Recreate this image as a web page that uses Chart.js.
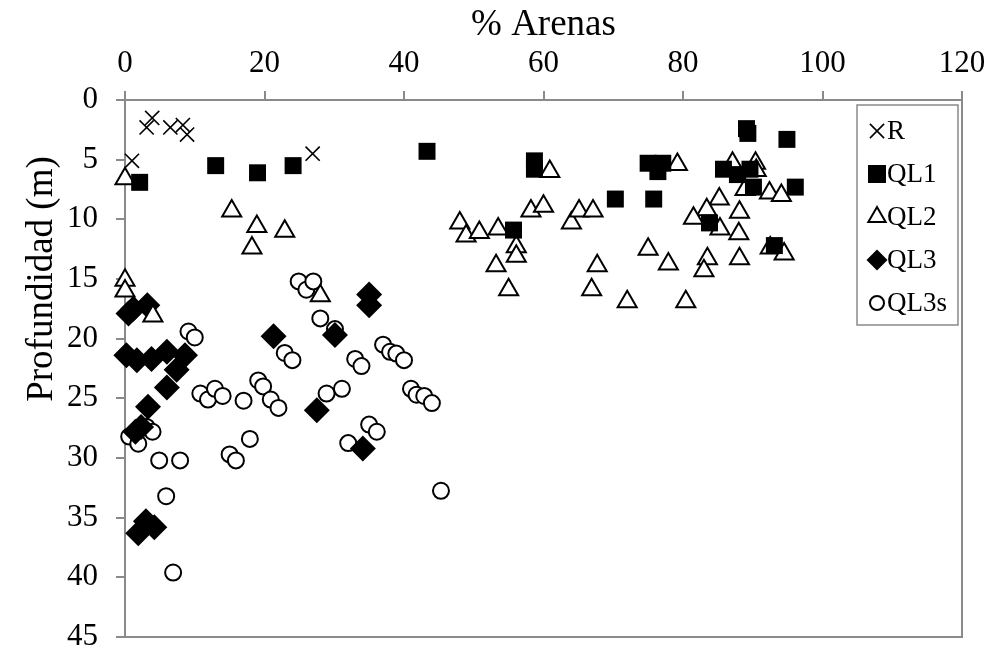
<!DOCTYPE html>
<html>
<head>
<meta charset="utf-8">
<script src="https://cdn.jsdelivr.net/npm/chart.js@4.4.0/dist/chart.umd.min.js"></script>
<style>
html,body{margin:0;padding:0;background:#fff;}
#wrap{width:991px;height:653px;position:relative;}
</style>
</head>
<body>
<div id="wrap"><canvas id="c" width="991" height="653"></canvas></div>
<script>
// Tick settings
const xTicks = [0, 20, 40, 60, 80, 100, 120];
const yTicks = [0, 5, 10, 15, 20, 25, 30, 35, 40, 45];
const xTitle = '% Arenas';
const yTitle = 'Profundidad (m)';
const seriesNames = ['R', 'QL1', 'QL2', 'QL3', 'QL3s'];

// R
const rX = [1.0, 3.1, 3.9, 6.5, 8.3, 8.9, 26.9];
const rY = [5.1, 2.3, 1.5, 2.3, 2.1, 2.9, 4.5];

// QL1
const ql1X = [2.1, 13.0, 19.0, 24.1, 43.3, 58.7, 58.7, 55.7, 70.3, 75.0, 77.1, 76.4, 75.8, 85.8, 87.8, 89.6, 90.1, 89.1, 89.3, 94.9, 96.1, 83.8, 93.1];
const ql1Y = [6.9, 5.5, 6.1, 5.5, 4.3, 5.1, 5.8, 10.9, 8.3, 5.3, 5.3, 6.0, 8.3, 5.8, 6.25, 5.8, 7.3, 2.4, 2.8, 3.3, 7.3, 10.3, 12.2];

// QL2
const ql2X = [0.0, 15.3, 18.9, 22.9, 18.2, 0.0, 0.0, 4.0, 28.0, 48.0, 48.9, 50.8, 53.5, 56.1, 56.1, 53.2, 55.0, 58.2, 60.0, 64.0, 65.1, 67.1, 67.7, 66.9, 72.0, 75.0, 60.9, 79.2, 87.1, 90.4, 90.5, 88.9, 92.4, 94.1, 85.2, 83.4, 81.5, 88.1, 85.3, 88.0, 77.9, 83.5, 83.0, 88.1, 92.5, 94.5, 80.4];
const ql2Y = [6.6, 9.3, 10.6, 11.0, 12.4, 15.1, 16.0, 18.1, 16.4, 10.3, 11.4, 11.1, 10.8, 12.3, 13.1, 13.9, 15.9, 9.3, 8.9, 10.3, 9.3, 9.3, 13.9, 15.9, 16.9, 12.5, 6.0, 5.4, 5.3, 5.3, 5.9, 7.5, 7.8, 8.0, 8.3, 9.2, 9.9, 9.4, 10.8, 11.2, 13.75, 13.3, 14.3, 13.3, 12.4, 12.9, 16.9];

// QL3
const ql3X = [0.5, 1.2, 3.2, 21.3, 0.2, 1.7, 3.8, 6.0, 8.6, 7.4, 6.0, 3.3, 1.5, 2.3, 1.9, 3.0, 4.2, 35.0, 35.0, 30.1, 27.5, 34.1];
const ql3Y = [17.9, 17.5, 17.2, 19.8, 21.4, 21.8, 21.7, 21.1, 21.4, 22.6, 24.1, 25.7, 27.8, 27.4, 36.3, 35.3, 35.8, 16.3, 17.2, 19.7, 26.0, 29.2];

// QL3s
const ql3sX = [9.1, 10.0, 19.1, 19.8, 22.9, 24.0, 10.8, 11.9, 12.9, 14.0, 17.0, 20.9, 22.0, 0.6, 1.9, 3.1, 3.95, 4.9, 7.9, 5.9, 6.9, 17.9, 15.0, 15.9, 24.9, 26.0, 27.0, 28.0, 30.1, 33.0, 33.9, 37.0, 38.0, 38.9, 40.0, 41.0, 41.8, 42.9, 44.0, 28.9, 31.1, 35.0, 36.1, 32.0, 45.3];
const ql3sY = [19.4, 19.9, 23.5, 24.0, 21.2, 21.8, 24.6, 25.1, 24.2, 24.8, 25.2, 25.1, 25.8, 28.2, 28.8, 27.4, 27.8, 30.2, 30.2, 33.2, 39.6, 28.4, 29.7, 30.2, 15.2, 15.9, 15.2, 18.3, 19.2, 21.7, 22.3, 20.5, 21.1, 21.25, 21.8, 24.2, 24.7, 24.8, 25.4, 24.6, 24.2, 27.2, 27.8, 28.75, 32.75];

function pts(xs, ys) { return xs.map((x, i) => ({x: x, y: ys[i]})); }

const AXIS = '#8a8a8a';
const FONT = "'Liberation Serif', 'Times New Roman', serif";

const styles = [
  {pointStyle: 'crossRot', radius: 10, backgroundColor: '#000', borderColor: '#000', borderWidth: 1.6, legendR: 10},
  {pointStyle: 'rect', radius: 12, backgroundColor: '#000', borderColor: '#000', borderWidth: 0, legendR: 12.7},
  {pointStyle: 'triangle', radius: 11, backgroundColor: '#fff', borderColor: '#000', borderWidth: 2, legendR: 10},
  {pointStyle: 'rectRot', radius: 13, backgroundColor: '#000', borderColor: '#000', borderWidth: 0, legendR: 10.5},
  {pointStyle: 'circle', radius: 8, backgroundColor: '#fff', borderColor: '#000', borderWidth: 2, legendR: 7}
];
const dataSets = [pts(rX, rY), pts(ql1X, ql1Y), pts(ql2X, ql2Y), pts(ql3X, ql3Y), pts(ql3sX, ql3sY)];

const datasets = seriesNames.map((name, i) => ({
  label: name,
  data: dataSets[i],
  clip: false,
  pointStyle: styles[i].pointStyle,
  pointRadius: styles[i].radius,
  pointHoverRadius: styles[i].radius,
  pointBackgroundColor: styles[i].backgroundColor,
  pointBorderColor: styles[i].borderColor,
  pointBorderWidth: styles[i].borderWidth,
  showLine: false
}));

const framePlugin = {
  id: 'frame',
  beforeDatasetsDraw(chart) {
    const {ctx, chartArea: a} = chart;
    ctx.save();
    ctx.strokeStyle = AXIS;
    ctx.lineWidth = 2;
    ctx.beginPath();
    ctx.moveTo(a.right, a.top);
    ctx.lineTo(a.right, a.bottom);
    ctx.lineTo(a.left, a.bottom);
    ctx.stroke();
    // y axis title
    ctx.translate(42, 279);
    ctx.rotate(-Math.PI / 2);
    ctx.fillStyle = '#000';
    ctx.font = "37px " + FONT;
    ctx.textAlign = 'center';
    ctx.textBaseline = 'middle';
    ctx.fillText(yTitle, 0, 0);
    ctx.restore();
  }
};

const legendPlugin = {
  id: 'boxLegend',
  afterDatasetsDraw(chart) {
    const ctx = chart.ctx;
    const bx = 857, by = 105, bw = 101, bh = 220;
    ctx.save();
    ctx.fillStyle = '#fff';
    ctx.fillRect(bx, by, bw, bh);
    ctx.strokeStyle = AXIS;
    ctx.lineWidth = 1.5;
    ctx.strokeRect(bx, by, bw, bh);
    ctx.font = "27px " + FONT;
    ctx.textBaseline = 'middle';
    ctx.textAlign = 'left';
    seriesNames.forEach((name, i) => {
      const cy = 131 + i * 43;
      const s = styles[i];
      ctx.fillStyle = s.backgroundColor;
      ctx.strokeStyle = s.borderColor;
      ctx.lineWidth = s.borderWidth;
      Chart.helpers.drawPoint(ctx, {pointStyle: s.pointStyle, radius: s.legendR, rotation: 0, borderWidth: s.borderWidth}, 877, cy);
      ctx.fillStyle = '#000';
      ctx.fillText(name, 887, cy + 1);
    });
    ctx.restore();
  }
};

new Chart(document.getElementById('c'), {
  type: 'scatter',
  data: {datasets: datasets},
  options: {
    responsive: false,
    animation: false,
    events: [],
    layout: {padding: {left: 0, right: 29, top: 0, bottom: 16}},
    plugins: {legend: {display: false}, tooltip: {enabled: false}},
    scales: {
      x: {
        type: 'linear', position: 'top', min: 0, max: 120,
        afterBuildTicks(scale) { scale.ticks = xTicks.map(v => ({value: v})); },
        afterFit(scale) { scale.height = 100; scale.paddingLeft = 0; scale.paddingRight = 0; },
        ticks: {color: '#000', font: {family: FONT, size: 31}, padding: 9, maxRotation: 0},
        grid: {drawOnChartArea: false, drawTicks: true, tickLength: 9, color: AXIS, lineWidth: 2},
        border: {display: true, color: AXIS, width: 2},
        title: {display: true, text: xTitle, color: '#000', font: {family: FONT, size: 37}, padding: {top: 3, bottom: 0}}
      },
      y: {
        type: 'linear', reverse: true, min: 0, max: 45,
        afterBuildTicks(scale) { scale.ticks = yTicks.map(v => ({value: v})); },
        afterFit(scale) { scale.width = 125; scale.paddingTop = 0; scale.paddingBottom = 0; },
        ticks: {color: '#000', font: {family: FONT, size: 31}, padding: 18},
        grid: {drawOnChartArea: false, drawTicks: true, tickLength: 9, color: AXIS, lineWidth: 2},
        border: {display: true, color: AXIS, width: 2},
        title: {display: false}
      }
    }
  },
  plugins: [framePlugin, legendPlugin]
});
</script>
</body>
</html>
